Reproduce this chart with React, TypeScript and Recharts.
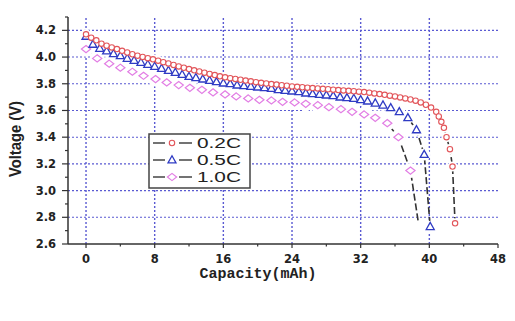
import { LineChart, Line, XAxis, YAxis, ReferenceLine } from "recharts"

// 0.2C discharge
const cap02 = [
  0, 0.6, 1.2, 1.8, 2.4, 3.0, 3.6, 4.2, 4.8, 5.4, 6.0, 6.6, 7.2, 7.8, 8.4, 9.0, 9.6, 10.2, 10.8, 11.4,
  12.0, 12.6, 13.2, 13.8, 14.4, 15.0, 15.6, 16.2, 16.8, 17.4, 18.0, 18.6, 19.2, 19.8, 20.4, 21.0, 21.6,
  22.2, 22.8, 23.4, 24.0, 24.6, 25.2, 25.8, 26.4, 27.0, 27.6, 28.2, 28.8, 29.4, 30.0, 30.6, 31.2, 31.8,
  32.4, 33.0, 33.6, 34.2, 34.8, 35.4, 36.0, 36.6, 37.2, 37.8, 38.4, 39.0, 39.6, 40.2, 40.8, 41.1, 41.4,
  41.7, 42.0, 42.4, 42.7, 43.0,
]
const volt02 = [
  4.17, 4.145, 4.125, 4.1, 4.085, 4.072, 4.06, 4.047, 4.034, 4.021, 4.01, 4.001, 3.992, 3.983, 3.973,
  3.962, 3.952, 3.941, 3.93, 3.92, 3.91, 3.901, 3.892, 3.883, 3.874, 3.865, 3.856, 3.848, 3.842, 3.836,
  3.83, 3.824, 3.818, 3.812, 3.807, 3.802, 3.798, 3.794, 3.789, 3.785, 3.78, 3.777, 3.774, 3.771, 3.768,
  3.765, 3.762, 3.759, 3.756, 3.753, 3.75, 3.747, 3.744, 3.741, 3.738, 3.733, 3.728, 3.723, 3.717, 3.711,
  3.705, 3.698, 3.69, 3.682, 3.673, 3.66, 3.643, 3.622, 3.59, 3.555, 3.515, 3.47, 3.4, 3.31, 3.18, 2.755,
]

// 0.5C discharge
const cap05 = [
  0, 0.8, 1.6, 2.4, 3.2, 4.0, 4.8, 5.6, 6.4, 7.2, 8.0, 8.8, 9.6, 10.4, 11.2, 12.0, 12.8, 13.6, 14.4,
  15.2, 16.0, 16.8, 17.6, 18.4, 19.2, 20.0, 20.8, 21.6, 22.4, 23.2, 24.0, 24.8, 25.6, 26.4, 27.2, 28.0,
  28.8, 29.6, 30.4, 31.2, 32.0, 32.8, 33.7, 34.6, 35.5, 36.5, 37.5, 38.5, 39.4, 40.1,
]
const volt05 = [
  4.155, 4.095, 4.065, 4.045, 4.025, 4.01, 3.99, 3.975, 3.96, 3.945, 3.93, 3.915, 3.9, 3.885, 3.87,
  3.855, 3.845, 3.835, 3.825, 3.815, 3.805, 3.8, 3.79, 3.785, 3.78, 3.775, 3.77, 3.765, 3.755, 3.75,
  3.745, 3.74, 3.73, 3.725, 3.72, 3.715, 3.71, 3.7, 3.695, 3.69, 3.68, 3.67, 3.655, 3.64, 3.62, 3.59,
  3.545, 3.455, 3.27, 2.73,
]

// 1.0C discharge
const cap10 = [
  0, 1.3, 2.7, 4.0, 5.4, 6.7, 8.1, 9.4, 10.8, 12.1, 13.5, 14.8, 16.2, 17.5, 18.9, 20.2, 21.6, 22.9,
  24.3, 25.6, 27.0, 28.3, 29.7, 31.0, 32.4, 33.7, 35.1, 36.4, 37.8, 38.7,
]
const volt10 = [
  4.06, 3.99, 3.95, 3.92, 3.89, 3.86, 3.835, 3.81, 3.79, 3.77, 3.755, 3.735, 3.72, 3.705, 3.69, 3.68,
  3.675, 3.665, 3.66, 3.65, 3.64, 3.625, 3.61, 3.59, 3.57, 3.545, 3.505, 3.4, 3.15, 2.77,
]

const xTicks = [0, 4, 8, 12, 16, 20, 24, 28, 32, 36, 40, 44, 48]
const xLabels = [0, 8, 16, 24, 32, 40, 48]
const yTicks = [2.6, 2.7, 2.8, 2.9, 3.0, 3.1, 3.2, 3.3, 3.4, 3.5, 3.6, 3.7, 3.8, 3.9, 4.0, 4.1, 4.2, 4.3]
const yLabels = [2.6, 2.8, 3.0, 3.2, 3.4, 3.6, 3.8, 4.0, 4.2]
const gridX = [0, 8, 16, 24, 32, 40]
const gridY = [2.8, 3.0, 3.2, 3.4, 3.6, 3.8, 4.0, 4.2]

const seriesNames = ["0.2C", "0.5C", "1.0C"]
const RED = "#e2555a"
const BLUE = "#2f3bc4"
const PINK = "#e27ee4"
const AXIS = "#333"
const GRID = "#5a5ad2"

const toRows = (caps: number[], volts: number[]) => caps.map((c, i) => ({ c, v: volts[i] }))
const data02 = toRows(cap02, volt02)
const data05 = toRows(cap05, volt05)
const data10 = toRows(cap10, volt10)

const tickFont = { fontFamily: "DejaVu Sans", fontWeight: 700, fontSize: 11.5, fill: "#222" }

const circle = (cx: number, cy: number, key?: string) => (
  <circle key={key} cx={cx} cy={cy} r={2.7} fill="#fff" stroke={RED} strokeWidth={1.1} />
)
const triangle = (cx: number, cy: number, key?: string) => (
  <path
    key={key}
    d={`M${cx},${cy - 4.2}L${cx - 4},${cy + 2.9}L${cx + 4},${cy + 2.9}Z`}
    fill="#fff"
    stroke={BLUE}
    strokeWidth={1.3}
  />
)
const diamond = (cx: number, cy: number, key?: string) => (
  <path
    key={key}
    d={`M${cx},${cy - 3.6}L${cx + 4.6},${cy}L${cx},${cy + 3.6}L${cx - 4.6},${cy}Z`}
    fill="#fff"
    stroke={PINK}
    strokeWidth={1.2}
  />
)
// white gap around each symbol, so the connecting line only shows on long segments
const halo = (r: number, tag: string, skipLast = -1) => (p: any) =>
  p.index === skipLast ? (
    <g key={`${tag}${p.index}`} />
  ) : (
    <circle key={`${tag}${p.index}`} cx={p.cx} cy={p.cy} r={r} fill="#fff" />
  )

function YTick({ x, y, payload }: any) {
  const v = payload.value
  const major = yLabels.some((l) => Math.abs(l - v) < 1e-6)
  return (
    <g>
      <line x1={x - (major ? 6 : 3)} x2={x} y1={y} y2={y} stroke={AXIS} strokeWidth={1.2} />
      {major && (
        <text x={x - 12} y={y + 4} textAnchor="end" {...tickFont}>
          {v.toFixed(1)}
        </text>
      )}
    </g>
  )
}

function XTick({ x, y, payload }: any) {
  const v = payload.value
  const major = xLabels.includes(v)
  return (
    <g>
      <line x1={x} x2={x} y1={y} y2={y + (major ? 4 : 2.5)} stroke={AXIS} strokeWidth={1.2} />
      {major && (
        <text x={x} y={y + 19} textAnchor="middle" {...tickFont}>
          {v}
        </text>
      )}
    </g>
  )
}

const markers = [circle, triangle, diamond]

export default function App() {
  return (
    <div style={{ position: "absolute", left: 0, top: 0, width: 515, height: 321, background: "#fff" }}>
      <LineChart width={515} height={321} margin={{ top: 17, right: 17, bottom: 47, left: 18 }}>
        <XAxis
          dataKey="c"
          type="number"
          domain={[-2.1, 48]}
          ticks={xTicks}
          allowDataOverflow
          height={30}
          tickSize={0}
          tickMargin={0}
          tickLine={false}
          axisLine={{ stroke: AXIS, strokeWidth: 1.5 }}
          tick={<XTick />}
        />
        <YAxis
          dataKey="v"
          type="number"
          domain={[2.6, 4.3]}
          ticks={yTicks}
          allowDataOverflow
          width={50}
          tickSize={0}
          tickMargin={0}
          tickLine={false}
          axisLine={{ stroke: AXIS, strokeWidth: 1.5 }}
          tick={<YTick />}
          interval={0}
        />
        {gridY.map((v) => (
          <ReferenceLine key={`gy${v}`} y={v} stroke={GRID} strokeWidth={1.1} strokeDasharray="2 2" />
        ))}
        {gridX.map((v) => (
          <ReferenceLine key={`gx${v}`} x={v} stroke={GRID} strokeWidth={1.4} strokeDasharray="2 2" />
        ))}
        {/* connecting lines with symbol gaps */}
        <Line
          data={data10}
          dataKey="v"
          stroke="#333"
          strokeWidth={1.6}
          strokeDasharray="7 3"
          isAnimationActive={false}
          dot={halo(7.5, "hd", data10.length - 1)}
        />
        <Line
          data={data05}
          dataKey="v"
          stroke="#333"
          strokeWidth={1.6}
          strokeDasharray="7 3"
          isAnimationActive={false}
          dot={halo(6, "ht")}
        />
        <Line
          data={data02}
          dataKey="v"
          stroke="#333"
          strokeWidth={1.6}
          strokeDasharray="7 3"
          isAnimationActive={false}
          dot={halo(5, "hc")}
        />
        {/* symbols */}
        <Line
          data={data10}
          dataKey="v"
          stroke="none"
          isAnimationActive={false}
          dot={(p: any) =>
            p.index === data10.length - 1 ? <g key={`d${p.index}`} /> : diamond(p.cx, p.cy, `d${p.index}`)
          }
        />
        <Line
          data={data05}
          dataKey="v"
          stroke="none"
          isAnimationActive={false}
          dot={(p: any) => triangle(p.cx, p.cy, `t${p.index}`)}
        />
        <Line
          data={data02}
          dataKey="v"
          stroke="none"
          isAnimationActive={false}
          dot={(p: any) => circle(p.cx, p.cy, `c${p.index}`)}
        />
      </LineChart>

      {/* axis titles */}
      <svg width={515} height={321} style={{ position: "absolute", left: 0, top: 0, pointerEvents: "none" }}>
        <text
          x={21}
          y={139}
          transform="rotate(-90 21 139)"
          textAnchor="middle"
          fontFamily="Liberation Sans"
          fontWeight={700}
          fontSize={16}
          textLength={76}
          lengthAdjust="spacingAndGlyphs"
          fill="#222"
        >
          Voltage (V)
        </text>
        <text
          x={258}
          y={278}
          textAnchor="middle"
          fontFamily="Liberation Mono"
          fontWeight={700}
          fontSize={15}
          fill="#222"
        >
          Capacity(mAh)
        </text>
      </svg>

      {/* legend */}
      <svg width={103} height={56} style={{ position: "absolute", left: 148, top: 133 }}>
        <rect x={1} y={1} width={101} height={54} fill="#fff" stroke="#444" strokeWidth={1.5} />
        {seriesNames.map((name, i) => {
          const cy = 10 + i * 17
          return (
            <g key={name}>
              <line x1={5} x2={17} y1={cy} y2={cy} stroke="#444" strokeWidth={1.5} />
              <line x1={31} x2={44} y1={cy} y2={cy} stroke="#444" strokeWidth={1.5} />
              {markers[i](24, cy)}
              <text
                x={49}
                y={cy + 5}
                fontFamily="Liberation Sans"
                fontSize={14}
                textLength={44}
                lengthAdjust="spacingAndGlyphs"
                fill="#222"
              >
                {name}
              </text>
            </g>
          )
        })}
      </svg>
    </div>
  )
}
